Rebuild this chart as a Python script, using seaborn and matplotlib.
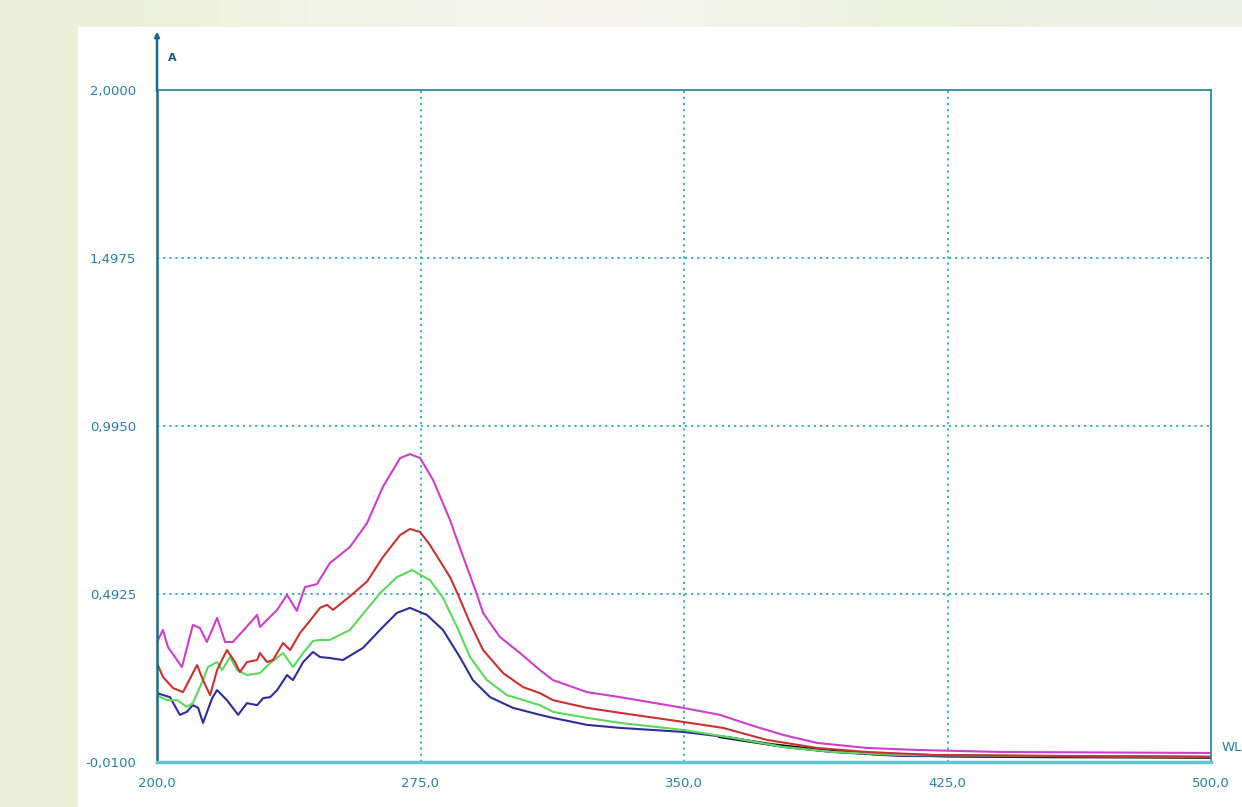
# UV-Vis absorbance spectra, four samples
import numpy as np
import pandas as pd
import matplotlib
matplotlib.use("Agg")
import matplotlib.pyplot as plt
from matplotlib.patches import Rectangle
import seaborn as sns

# wavelength (nm) / absorbance
wl_magenta = [200.0, 201.7, 203.1, 207.1, 210.2, 212.2, 214.2, 217.1, 219.4, 221.6,
              226.5, 228.5, 229.3, 234.2, 237.0, 239.8, 242.1, 245.5, 249.2, 254.9,
              259.8, 264.3, 269.2, 272.0, 274.9, 278.6, 283.4, 285.4, 288.5, 291.1,
              292.8, 297.6, 303.3, 309.0, 312.7, 322.4, 331.8, 349.7, 360.2, 368.8,
              378.2, 387.9, 402.1, 416.3, 440.0, 500.0]
a_magenta = [0.349, 0.385, 0.334, 0.274, 0.400, 0.391, 0.349, 0.421, 0.349, 0.349,
             0.406, 0.430, 0.394, 0.445, 0.490, 0.442, 0.513, 0.522, 0.585, 0.633,
             0.705, 0.813, 0.899, 0.911, 0.899, 0.833, 0.714, 0.654, 0.565, 0.490,
             0.436, 0.364, 0.316, 0.265, 0.235, 0.199, 0.184, 0.152, 0.131, 0.101,
             0.071, 0.047, 0.032, 0.026, 0.020, 0.017]

wl_red = [200.0, 201.7, 204.6, 207.4, 211.4, 213.1, 215.1, 217.1, 219.9, 222.2,
          223.6, 225.6, 228.5, 229.3, 231.3, 233.0, 235.9, 237.9, 240.7, 243.5,
          246.4, 248.4, 250.1, 255.2, 259.8, 264.3, 269.2, 272.0, 274.9, 277.7,
          283.4, 285.7, 289.1, 292.8, 298.5, 304.2, 309.0, 312.7, 322.4, 331.8,
          349.7, 361.1, 373.6, 387.9, 402.1, 420.9, 500.0]
a_red = [0.286, 0.244, 0.211, 0.199, 0.280, 0.235, 0.190, 0.265, 0.325, 0.289,
         0.259, 0.289, 0.295, 0.316, 0.289, 0.295, 0.346, 0.325, 0.376, 0.412,
         0.451, 0.460, 0.445, 0.488, 0.530, 0.603, 0.669, 0.687, 0.678, 0.639,
         0.543, 0.490, 0.406, 0.325, 0.256, 0.214, 0.196, 0.175, 0.152, 0.137,
         0.110, 0.092, 0.056, 0.032, 0.020, 0.011, 0.005]

wl_green = [200.0, 202.8, 205.7, 208.5, 210.2, 213.1, 214.5, 217.1, 218.5, 220.8,
            222.8, 225.6, 229.3, 232.2, 235.9, 238.7, 241.6, 244.4, 246.4, 249.2,
            254.9, 263.5, 268.3, 272.6, 277.7, 281.4, 285.4, 289.1, 293.9, 299.6,
            309.0, 312.7, 322.4, 331.8, 349.7, 364.0, 378.2, 392.4, 411.5, 500.0]
a_green = [0.190, 0.175, 0.175, 0.155, 0.166, 0.235, 0.274, 0.289, 0.265, 0.304,
           0.265, 0.250, 0.256, 0.286, 0.316, 0.274, 0.316, 0.352, 0.355, 0.355,
           0.385, 0.495, 0.543, 0.564, 0.534, 0.481, 0.394, 0.304, 0.235, 0.190,
           0.160, 0.140, 0.122, 0.107, 0.086, 0.062, 0.035, 0.020, 0.011, 0.005]

wl_blue = [200.0, 203.7, 206.5, 208.5, 210.2, 211.7, 213.1, 215.7, 217.1, 219.9,
           223.1, 225.6, 228.5, 230.2, 232.2, 234.2, 237.0, 238.7, 241.6, 244.4,
           246.4, 249.2, 252.9, 258.6, 264.3, 268.3, 272.0, 276.8, 281.4, 286.2,
           289.9, 294.8, 301.3, 309.0, 312.7, 322.4, 331.8, 349.7, 364.0, 378.2,
           392.4, 411.5, 500.0]
a_blue = [0.196, 0.184, 0.131, 0.140, 0.160, 0.152, 0.107, 0.181, 0.205, 0.175,
          0.131, 0.166, 0.160, 0.181, 0.184, 0.205, 0.250, 0.235, 0.289, 0.319,
          0.304, 0.301, 0.295, 0.331, 0.394, 0.436, 0.451, 0.430, 0.385, 0.304,
          0.235, 0.184, 0.152, 0.131, 0.122, 0.101, 0.092, 0.080, 0.062, 0.035,
          0.020, 0.008, 0.005]

# black trace only shows through in the tail
wl_black = [360.0, 375.0, 390.0, 405.0, 425.0, 450.0, 475.0, 500.0]
a_black = [0.066, 0.042, 0.024, 0.014, 0.008, 0.006, 0.005, 0.004]

x_ticks = [200, 275, 350, 425, 500]
x_labels = ["200,0", "275,0", "350,0", "425,0", "500,0"]
y_ticks = [-0.01, 0.4925, 0.995, 1.4975, 2.0]
y_labels = ["-0,0100", "0,4925", "0,9950", "1,4975", "2,0000"]

sns.set_style("white")
plt.rcParams['font.family'] = ['DejaVu Sans']

fig = plt.figure(figsize=(12.42, 8.07), dpi=100)

# pale slide background behind the white panel
bg = fig.add_axes([0, 0, 1, 1], zorder=-10)
grad = np.array([[0.0, 0.3, 0.5, 0.7, 1.0]])
cmap = matplotlib.colors.LinearSegmentedColormap.from_list(
    "bg", ["#ebf0d6", "#f2f4e6", "#f6f6ef", "#ecf1dd", "#eef1e6"])
bg.imshow(grad, aspect="auto", cmap=cmap, extent=[0, 1, 0, 1],
          interpolation="bicubic")
bg.add_patch(Rectangle((78 / 1242, 0), 1, (807 - 27) / 807, color="white"))
bg.set_xlim(0, 1)
bg.set_ylim(0, 1)
bg.axis("off")

ax = fig.add_axes([157 / 1242, 45 / 807, 1054 / 1242, 672 / 807])
ax.set_facecolor("white")

series = [(wl_black, a_black, "#111111", 2.2),
          (wl_blue, a_blue, "#2e2e98", 1.5),
          (wl_green, a_green, "#5cd85c", 1.5),
          (wl_red, a_red, "#c83232", 1.5),
          (wl_magenta, a_magenta, "#cc3fcc", 1.5)]
for wl, a, col, lw in series:
    df = pd.DataFrame({"WL": wl, "A": a})
    sns.lineplot(data=df, x="WL", y="A", color=col, linewidth=lw,
                 estimator=None, sort=False, ax=ax)

ax.set_xlim(200, 500)
ax.set_ylim(-0.01, 2.0)
ax.set_xticks(x_ticks)
ax.set_xticklabels(x_labels)
ax.set_yticks(y_ticks)
ax.set_yticklabels(y_labels)
ax.set_xlabel("")
ax.set_ylabel("")
ax.tick_params(axis="both", length=0, labelsize=9.5, labelcolor="#2a7ea6")
ax.tick_params(axis="x", pad=11)
ax.tick_params(axis="y", pad=15)

# dotted grid on the inner ticks only
for xv in x_ticks[1:-1]:
    ax.axvline(xv, color="#2fa7b5", linestyle=(0, (1.2, 2.2)), linewidth=1.3, zorder=0)
for yv in y_ticks[1:-1]:
    ax.axhline(yv, color="#2fa7b5", linestyle=(0, (1.2, 2.2)), linewidth=1.3, zorder=0)

for side in ["top", "right"]:
    ax.spines[side].set_visible(True)
    ax.spines[side].set_color("#2a8fa0")
    ax.spines[side].set_linewidth(1.3)
ax.spines["bottom"].set_color("#62c6d0")
ax.spines["bottom"].set_linewidth(2.5)
ax.spines["left"].set_color("#1b6a8c")
ax.spines["left"].set_linewidth(1.8)

# axis arrow above the plot and axis names
ax.annotate("", xy=(0, 1.087), xytext=(0, 0.998), xycoords="axes fraction",
            arrowprops=dict(arrowstyle="-|>", color="#1b6a8c", lw=1.8,
                            mutation_scale=7, shrinkA=0, shrinkB=0))
ax.text(0.010, 1.047, "A", transform=ax.transAxes, fontsize=8, fontweight="bold",
        color="#1b5a7c", ha="left", va="center")
ax.text(1.010, 0.022, "WL", transform=ax.transAxes, fontsize=9.5,
        color="#2a7ea6", ha="left", va="center")

plt.savefig("out.png", dpi=100)
